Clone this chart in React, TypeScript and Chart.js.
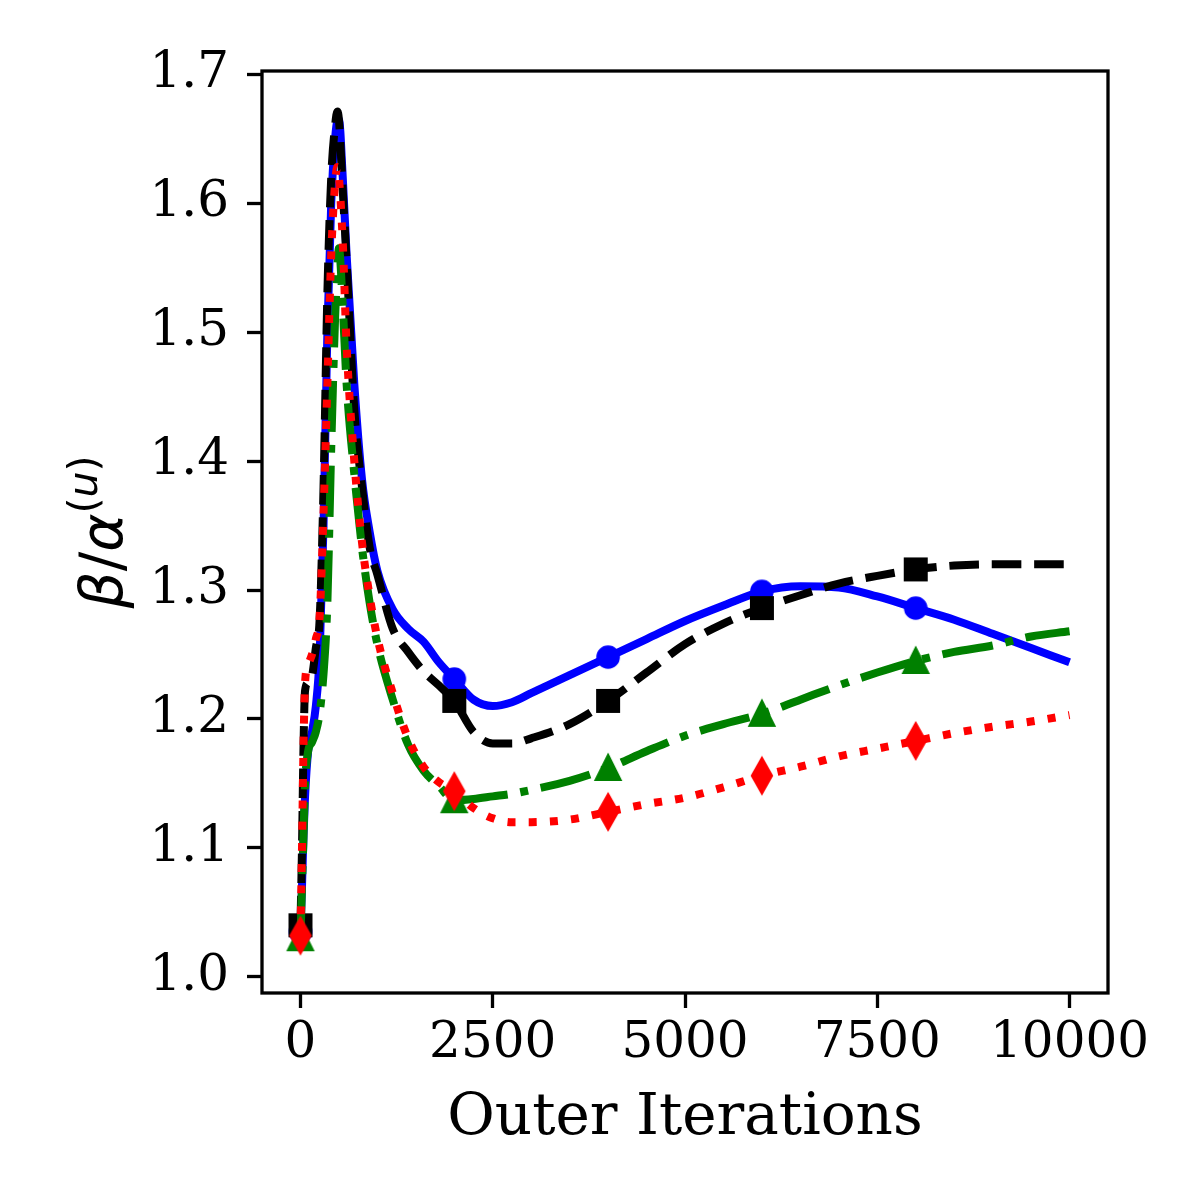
import React, { useRef, useEffect } from 'react';
import { Chart, registerables } from 'chart.js';

Chart.register(...registerables);

const iterations = [
  0, 20, 40, 60, 100, 150, 200, 250, 300, 350, 400, 450, 480, 500, 550, 600, 700, 800, 900, 1000,
  1200, 1400, 1600, 1800, 2000, 2250, 2500, 2750, 3000, 3500, 4000, 4500, 5000, 5500, 6000, 6500,
  7000, 7500, 8000, 8500, 9000, 9500, 10000,
];
const markerIterations = [0, 2000, 4000, 6000, 8000];

const blueValues = [
  1.035, 1.07, 1.11, 1.14, 1.175, 1.19, 1.21, 1.25, 1.35, 1.5, 1.6, 1.65, 1.664, 1.665, 1.62, 1.56,
  1.46, 1.386, 1.345, 1.315, 1.285, 1.27, 1.26, 1.244, 1.231, 1.215, 1.21, 1.213, 1.22, 1.234,
  1.248, 1.262, 1.276, 1.288, 1.299, 1.303, 1.302, 1.295, 1.286, 1.277, 1.266, 1.255, 1.244,
];
const blackValues = [
  1.04, 1.1, 1.18, 1.222, 1.228, 1.233, 1.255, 1.278, 1.38, 1.53, 1.62, 1.66, 1.671, 1.665, 1.61,
  1.555, 1.44, 1.38, 1.333, 1.312, 1.27, 1.252, 1.237, 1.226, 1.214, 1.19, 1.181, 1.181, 1.185,
  1.196, 1.214, 1.236, 1.258, 1.274, 1.286, 1.296, 1.305, 1.311, 1.316, 1.319, 1.32, 1.32, 1.32,
];
const greenValues = [
  1.03, 1.07, 1.11, 1.15, 1.175, 1.182, 1.19, 1.205, 1.235, 1.29, 1.41, 1.51, 1.55, 1.565, 1.52,
  1.46, 1.39, 1.333, 1.29, 1.258, 1.215, 1.18, 1.16, 1.148, 1.137, 1.138, 1.14, 1.142, 1.145,
  1.152, 1.162, 1.175, 1.187, 1.196, 1.204, 1.215, 1.226, 1.236, 1.245, 1.252, 1.257, 1.264, 1.268,
];
const redValues = [
  1.032, 1.1, 1.18, 1.228, 1.242, 1.25, 1.262, 1.28, 1.36, 1.46, 1.56, 1.615, 1.628, 1.62, 1.57,
  1.49, 1.4, 1.337, 1.295, 1.263, 1.22, 1.185, 1.163, 1.151, 1.144, 1.131, 1.123, 1.12, 1.12,
  1.122, 1.128, 1.134, 1.139, 1.147, 1.156, 1.163, 1.171, 1.177, 1.183, 1.189, 1.194, 1.198, 1.203,
];

const xTicks = [0, 2500, 5000, 7500, 10000];
const yTicks = [1.0, 1.1, 1.2, 1.3, 1.4, 1.5, 1.6, 1.7];

const LW = 8;

function makeMarker(kind: string, color: string): HTMLCanvasElement {
  const c = document.createElement('canvas');
  c.width = 50;
  c.height = 50;
  const g = c.getContext('2d')!;
  const m = 25;
  g.fillStyle = color;
  g.strokeStyle = color;
  g.lineWidth = 4;
  g.lineJoin = 'miter';
  g.beginPath();
  if (kind === 'circle') {
    g.arc(m, m, 9.8, 0, Math.PI * 2);
  } else if (kind === 'square') {
    g.rect(m - 10, m - 10, 20, 20);
  } else if (kind === 'triangle') {
    g.moveTo(m, m - 11);
    g.lineTo(m + 11, m + 11);
    g.lineTo(m - 11, m + 11);
  } else {
    g.moveTo(m, m - 16);
    g.lineTo(m + 9, m);
    g.lineTo(m, m + 16);
    g.lineTo(m - 9, m);
  }
  g.closePath();
  g.fill();
  g.stroke();
  return c;
}

const toPoints = (vals: number[]) => vals.map((y, i) => ({ x: iterations[i], y }));
const markerRadius = (ctx: any) => (markerIterations.includes(iterations[ctx.dataIndex]) ? 12 : 0);

const framePlugin = {
  id: 'frame',
  afterDatasetsDraw(chart: any) {
    const { ctx, chartArea: a } = chart;
    ctx.save();
    ctx.strokeStyle = '#000';
    ctx.lineWidth = 3.3;
    ctx.strokeRect(a.left, a.top, a.right - a.left, a.bottom - a.top);
    ctx.restore();
  },
};

const titlesPlugin = {
  id: 'titles',
  afterDraw(chart: any) {
    const { ctx, chartArea: a } = chart;
    ctx.save();
    ctx.fillStyle = '#000';
    ctx.font = '58px "DejaVu Serif"';
    ctx.textAlign = 'center';
    ctx.textBaseline = 'alphabetic';
    ctx.fillText('Outer Iterations', (a.left + a.right) / 2, 1134);

    // y label: beta / alpha^(u), mathtext style
    const main = 58;
    const sup = 41;
    const parts = [
      { t: '\u03b2', f: `italic ${main}px "DejaVu Sans"`, dy: 0 },
      { t: '/', f: `${main}px "DejaVu Sans"`, dy: 0 },
      { t: '\u03b1', f: `italic ${main}px "DejaVu Sans"`, dy: 0 },
      { t: '(', f: `${sup}px "DejaVu Sans"`, dy: -25 },
      { t: 'u', f: `italic ${sup}px "DejaVu Sans"`, dy: -25 },
      { t: ')', f: `${sup}px "DejaVu Sans"`, dy: -25 },
    ];
    let total = 0;
    const widths = parts.map((p) => {
      ctx.font = p.f;
      const w = ctx.measureText(p.t).width;
      total += w;
      return w;
    });
    ctx.translate(122, (a.top + a.bottom) / 2);
    ctx.rotate(-Math.PI / 2);
    ctx.textAlign = 'left';
    let x = -total / 2;
    parts.forEach((p, i) => {
      ctx.font = p.f;
      ctx.fillText(p.t, x, p.dy);
      x += widths[i];
    });
    ctx.restore();
  },
};

const App: React.FC = () => {
  const canvasRef = useRef<HTMLCanvasElement>(null);
  const chartRef = useRef<Chart | null>(null);

  useEffect(() => {
    if (!canvasRef.current) return;
    const ctx = canvasRef.current.getContext('2d');
    if (!ctx) return;

    const tickFont = { family: 'DejaVu Serif', size: 50 };
    const grid = {
      display: true,
      drawOnChartArea: false,
      drawTicks: true,
      tickLength: 15,
      tickWidth: 3.3,
      tickColor: '#000',
    };

    chartRef.current = new Chart(ctx, {
      type: 'line',
      data: {
        datasets: [
          {
            label: 'blue',
            data: toPoints(blueValues),
            borderColor: '#0000ff',
            borderWidth: LW,
            borderJoinStyle: 'round',
            pointStyle: makeMarker('circle', '#0000ff'),
            pointRadius: markerRadius,
            cubicInterpolationMode: 'monotone',
            order: 3,
          },
          {
            label: 'black',
            data: toPoints(blackValues),
            borderColor: '#000000',
            borderWidth: LW,
            borderDash: [3.7 * LW, 1.6 * LW],
            pointStyle: makeMarker('square', '#000000'),
            pointRadius: markerRadius,
            cubicInterpolationMode: 'monotone',
            order: 2,
          },
          {
            label: 'green',
            data: toPoints(greenValues),
            borderColor: '#008000',
            borderWidth: LW,
            borderDash: [6.4 * LW, 1.6 * LW, 1 * LW, 1.6 * LW],
            pointStyle: makeMarker('triangle', '#008000'),
            pointRadius: markerRadius,
            cubicInterpolationMode: 'monotone',
            order: 1,
          },
          {
            label: 'red',
            data: toPoints(redValues),
            borderColor: '#ff0000',
            borderWidth: LW,
            borderDash: [1 * LW, 1.65 * LW],
            pointStyle: makeMarker('diamond', '#ff0000'),
            pointRadius: markerRadius,
            cubicInterpolationMode: 'monotone',
            order: 0,
          },
        ],
      },
      options: {
        animation: false,
        responsive: false,
        devicePixelRatio: 1,
        events: [],
        layout: { padding: { left: 0, top: 71, right: 92, bottom: 0 } },
        plugins: { legend: { display: false }, tooltip: { enabled: false } },
        scales: {
          x: {
            type: 'linear',
            min: -500,
            max: 10500,
            border: { display: false },
            grid,
            ticks: {
              font: tickFont,
              color: '#000',
              padding: 6,
              maxRotation: 0,
              callback: (v: any) => String(v),
            },
            afterBuildTicks: (s: any) => {
              s.ticks = xTicks.map((value) => ({ value }));
            },
            afterFit: (s: any) => {
              s.height = 1200 - 993;
            },
          },
          y: {
            type: 'linear',
            min: 0.9875,
            max: 1.7025,
            border: { display: false },
            grid,
            ticks: {
              font: tickFont,
              color: '#000',
              padding: 18,
              callback: (v: any) => Number(v).toFixed(1),
            },
            afterBuildTicks: (s: any) => {
              s.ticks = yTicks.map((value) => ({ value }));
            },
            afterFit: (s: any) => {
              s.width = 262;
            },
          },
        },
      },
      plugins: [framePlugin, titlesPlugin],
    });

    return () => {
      if (chartRef.current) {
        chartRef.current.destroy();
        chartRef.current = null;
      }
    };
  }, []);

  return (
    <div style={{ position: 'absolute', left: 0, top: 0, width: 1200, height: 1200, background: '#fff' }}>
      <canvas ref={canvasRef} width={1200} height={1200} />
    </div>
  );
};

export default App;
